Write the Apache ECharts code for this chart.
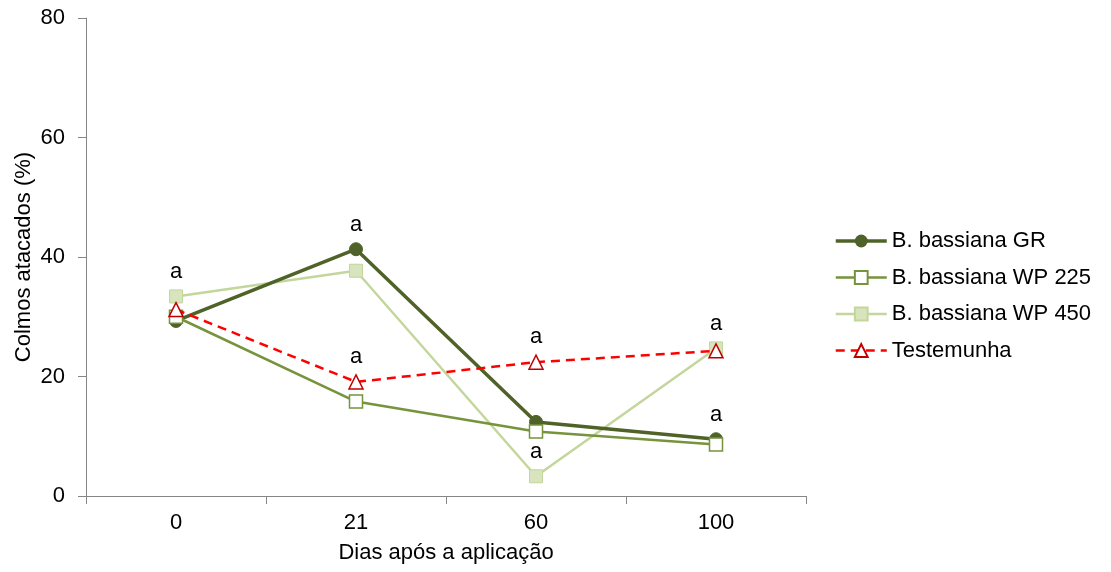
<!DOCTYPE html>
<html>
<head>
<meta charset="utf-8">
<script src="https://cdn.jsdelivr.net/npm/echarts@6/dist/echarts.min.js"></script>
<style>
  html, body { margin: 0; padding: 0; background: #fff; }
  #chart { width: 1111px; height: 572px; }
</style>
</head>
<body>
<div id="chart"></div>
<script>
// Days after application
const categories = ['0', '21', '60', '100'];

// Attacked stems (%) per treatment
const grValues = [29.3, 41.3, 12.4, 9.5];
const wp225Values = [30.0, 15.8, 10.8, 8.6];
const wp450Values = [33.4, 37.7, 3.3, 24.7];
const controlValues = [31.2, 19.1, 22.4, 24.3];

// Significance letters: [series name, category index, letter]
const letters = [
  ['B. bassiana WP 450', 0, 'a'],
  ['B. bassiana GR', 1, 'a'],
  ['Testemunha', 1, 'a'],
  ['Testemunha', 2, 'a'],
  ['B. bassiana WP 450', 2, 'a'],
  ['B. bassiana WP 450', 3, 'a'],
  ['B. bassiana GR', 3, 'a']
];

const yTicks = { min: 0, max: 80, interval: 20 };

const FONT = '"Liberation Sans", Arial, sans-serif';
const FS = 22;

function withLetters(name, values) {
  return values.map((v, i) => {
    const hit = letters.find(l => l[0] === name && l[1] === i);
    if (!hit) return v;
    return {
      value: v,
      label: {
        show: true,
        position: 'top',
        distance: 6,
        formatter: hit[2],
        color: '#000',
        fontSize: FS,
        fontFamily: FONT
      }
    };
  });
}

const chart = echarts.init(document.getElementById('chart'));
chart.setOption({
  animation: false,
  textStyle: { fontFamily: FONT },
  grid: { left: 86, right: 305, top: 18, bottom: 76 },
  legend: {
    orient: 'vertical',
    left: 829,
    top: 225,
    itemGap: 14.5,
    itemWidth: 51,
    itemHeight: 16,
    textStyle: { fontSize: FS, color: '#000', fontFamily: FONT },
    data: [
      { name: 'B. bassiana GR', lineStyle: { width: 3.5 } },
      { name: 'B. bassiana WP 225', lineStyle: { width: 2.5 } },
      { name: 'B. bassiana WP 450', lineStyle: { width: 2.5 } },
      { name: 'Testemunha', lineStyle: { width: 2.5 } }
    ]
  },
  xAxis: {
    type: 'category',
    data: categories,
    boundaryGap: true,
    name: 'Dias após a aplicação',
    nameLocation: 'middle',
    nameGap: 46,
    nameTextStyle: { fontSize: FS, color: '#000', fontFamily: FONT },
    axisLine: { lineStyle: { color: '#868686', width: 1 } },
    axisTick: { show: true, length: 8, lineStyle: { color: '#868686' } },
    axisLabel: { fontSize: FS, color: '#000', margin: 16, fontFamily: FONT }
  },
  yAxis: {
    type: 'value',
    min: yTicks.min,
    max: yTicks.max,
    interval: yTicks.interval,
    name: 'Colmos atacados (%)',
    nameLocation: 'middle',
    nameGap: 51,
    nameMoveOverlap: false,
    nameRotate: 90,
    nameTextStyle: { fontSize: FS, color: '#000', fontFamily: FONT },
    axisLine: { show: true, lineStyle: { color: '#868686', width: 1 } },
    axisTick: { show: true, length: 8, lineStyle: { color: '#868686' } },
    axisLabel: { fontSize: FS, color: '#000', margin: 21, fontFamily: FONT },
    splitLine: { show: false }
  },
  series: [
    {
      name: 'B. bassiana GR',
      type: 'line',
      data: withLetters('B. bassiana GR', grValues),
      symbol: 'circle',
      symbolSize: 13,
      z: 4,
      lineStyle: { color: '#4F6228', width: 3.5 },
      itemStyle: { color: '#4F6228', borderColor: '#4F6228' }
    },
    {
      name: 'B. bassiana WP 225',
      type: 'line',
      data: withLetters('B. bassiana WP 225', wp225Values),
      symbol: 'rect',
      symbolSize: 13,
      z: 5,
      lineStyle: { color: '#77933C', width: 2.5 },
      itemStyle: { color: '#FFFFFF', borderColor: '#77933C', borderWidth: 1.5 }
    },
    {
      name: 'B. bassiana WP 450',
      type: 'line',
      data: withLetters('B. bassiana WP 450', wp450Values),
      symbol: 'rect',
      symbolSize: 13,
      z: 3,
      lineStyle: { color: '#C3D69B', width: 2.5 },
      itemStyle: { color: '#D7E4BD', borderColor: '#C3D69B', borderWidth: 1 }
    },
    {
      name: 'Testemunha',
      type: 'line',
      data: withLetters('Testemunha', controlValues),
      symbol: 'triangle',
      symbolSize: 14,
      z: 6,
      lineStyle: { color: '#FF0000', width: 2.5, type: [9, 6] },
      itemStyle: { color: '#FFFFFF', borderColor: '#C00000', borderWidth: 1.5 }
    }
  ]
});
</script>
</body>
</html>
